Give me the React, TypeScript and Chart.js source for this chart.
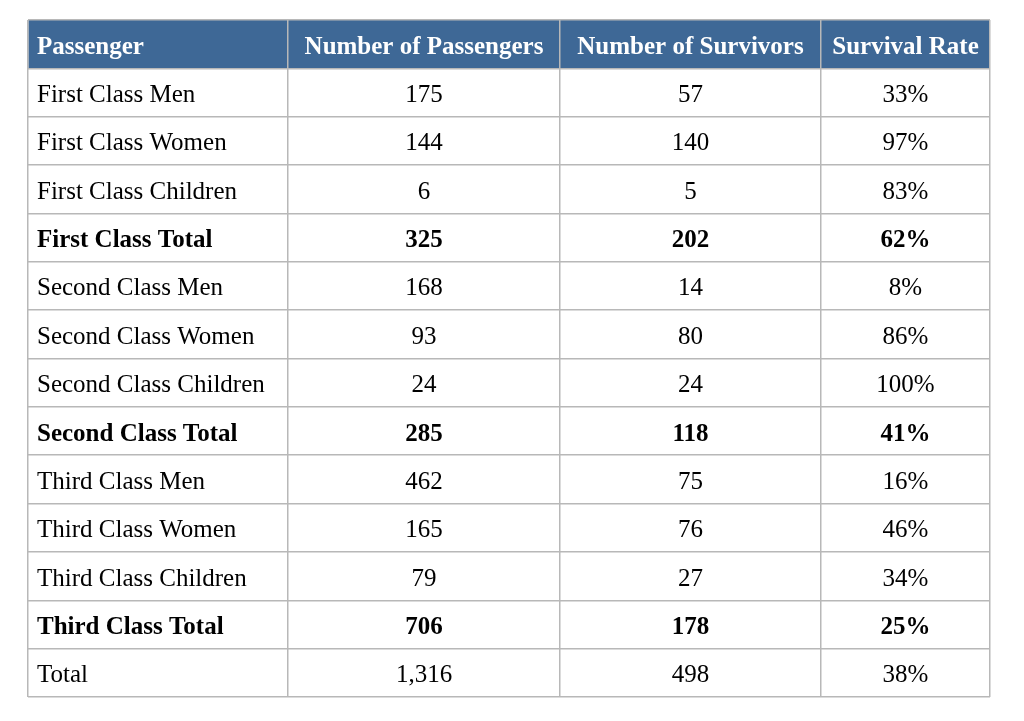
import React, { useEffect, useRef } from "react";
import { Chart, registerables } from "chart.js";

Chart.register(...registerables);

const headers = ["Passenger", "Number of Passengers", "Number of Survivors", "Survival Rate"];
const rowLabels = [
  "First Class Men",
  "First Class Women",
  "First Class Children",
  "First Class Total",
  "Second Class Men",
  "Second Class Women",
  "Second Class Children",
  "Second Class Total",
  "Third Class Men",
  "Third Class Women",
  "Third Class Children",
  "Third Class Total",
  "Total",
];
const passengers = [175, 144, 6, 325, 168, 93, 24, 285, 462, 165, 79, 706, 1316];
const survivors = [57, 140, 5, 202, 14, 80, 24, 118, 75, 76, 27, 178, 498];
const survivalRates = [33, 97, 83, 62, 8, 86, 100, 41, 16, 46, 34, 25, 38];

// column widths (layout)
const colWidths = [260, 272, 261, 169];
const colEdges = colWidths.reduce<number[]>((acc, w) => [...acc, acc[acc.length - 1] + w], [0]);
const totalWidth = colEdges[colEdges.length - 1];

const HEADER_BG = "#3e6896";
const GRID = "#b8b8b8";
const FONT = "'Liberation Serif', 'Times New Roman', serif";

export default function App() {
  const ref = useRef<HTMLCanvasElement | null>(null);

  useEffect(() => {
    if (!ref.current) return;
    const yLabels = ["header", ...rowLabels];

    const textPlugin = {
      id: "tableText",
      afterDraw(chart: any) {
        const ctx = chart.ctx;
        const xs = chart.scales.x;
        const ys = chart.scales.y;
        ctx.save();
        ctx.textBaseline = "alphabetic";
        const base = (i: number) => ys.getPixelForValue(i) + 9.5;
        // header
        ctx.fillStyle = "#ffffff";
        ctx.font = `bold 25px ${FONT}`;
        headers.forEach((h, c) => {
          if (c === 0) {
            ctx.textAlign = "left";
            ctx.fillText(h, xs.getPixelForValue(colEdges[0]) + 9, base(0));
          } else {
            ctx.textAlign = "center";
            ctx.fillText(h, xs.getPixelForValue((colEdges[c] + colEdges[c + 1]) / 2), base(0));
          }
        });
        // body
        ctx.fillStyle = "#000000";
        rowLabels.forEach((label, r) => {
          const bold = label.indexOf("Class Total") >= 0;
          ctx.font = `${bold ? "bold " : ""}25px ${FONT}`;
          const y = base(r + 1);
          ctx.textAlign = "left";
          ctx.fillText(label, xs.getPixelForValue(colEdges[0]) + 9, y);
          ctx.textAlign = "center";
          const vals = [
            passengers[r].toLocaleString("en-US"),
            survivors[r].toLocaleString("en-US"),
            survivalRates[r] + "%",
          ];
          vals.forEach((v, k) => {
            const c = k + 1;
            ctx.fillText(v, xs.getPixelForValue((colEdges[c] + colEdges[c + 1]) / 2), y);
          });
        });
        ctx.restore();
      },
    };

    const chart = new Chart(ref.current, {
      type: "bar",
      data: {
        labels: yLabels,
        datasets: [
          {
            label: "header",
            data: yLabels.map((_, i) => (i === 0 ? [0, totalWidth] : null)) as any,
            backgroundColor: HEADER_BG,
            borderWidth: 0,
            categoryPercentage: 1,
            barPercentage: 1,
          },
        ],
      },
      options: {
        indexAxis: "y",
        animation: false,
        responsive: false,
        maintainAspectRatio: false,
        layout: { padding: { left: 28, top: 20, right: 34, bottom: 24 } },
        plugins: { legend: { display: false }, tooltip: { enabled: false }, title: { display: false } },
        scales: {
          x: {
            type: "linear",
            min: 0,
            max: totalWidth,
            afterBuildTicks: (scale: any) => {
              scale.ticks = colEdges.map((v) => ({ value: v }));
            },
            ticks: { display: false },
            grid: { color: GRID, lineWidth: 1.5, drawTicks: false, z: 1 },
            border: { display: false },
          },
          y: {
            type: "category",
            offset: true,
            ticks: { display: false },
            grid: { color: GRID, lineWidth: 1.5, drawTicks: false, offset: true, z: 1 },
            border: { display: false },
          },
        },
      },
      plugins: [textPlugin],
    } as any);

    return () => chart.destroy();
  }, []);

  return (
    <div style={{ position: "absolute", left: 0, top: 0, width: 1024, height: 721, background: "#ffffff" }}>
      <canvas ref={ref} width={1024} height={721} style={{ display: "block" }} />
    </div>
  );
}
